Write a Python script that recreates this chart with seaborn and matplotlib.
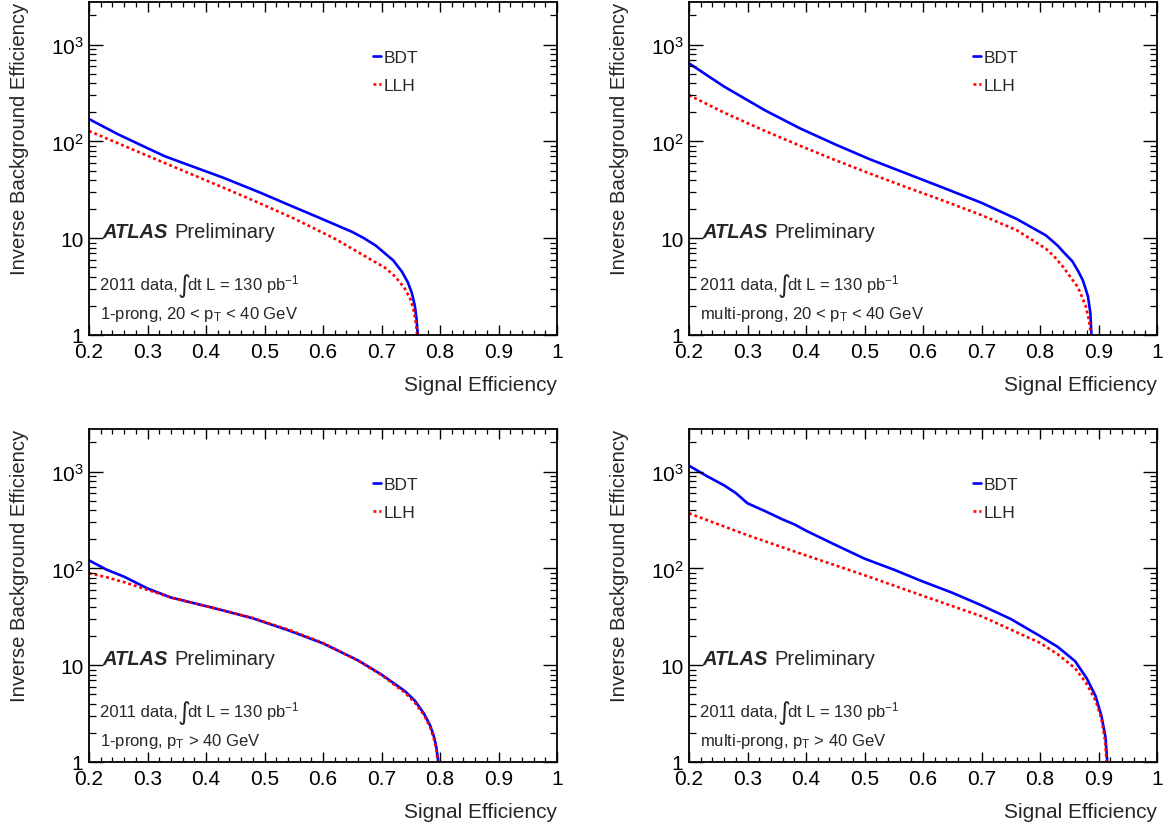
import numpy as np
import pandas as pd
import matplotlib
matplotlib.use("Agg")
import matplotlib.pyplot as plt
from matplotlib.ticker import FixedLocator, FixedFormatter, MultipleLocator, NullFormatter
import seaborn as sns

# ---------------- data ----------------
# Panel A: 1-prong, 20 < pT < 40 GeV
a_bdt_x = [0.20, 0.25, 0.30, 0.33, 0.36, 0.43, 0.49, 0.55, 0.59, 0.65, 0.67, 0.69, 0.72, 0.735, 0.745, 0.752, 0.757, 0.760, 0.762]
a_bdt_y = [170, 118, 85, 70, 60, 42, 30, 21, 16.6, 11.6, 10.0, 8.4, 5.9, 4.5, 3.5, 2.7, 2.0, 1.45, 1.0]
a_llh_x = [0.20, 0.30, 0.36, 0.43, 0.49, 0.55, 0.62, 0.68, 0.705, 0.72, 0.73, 0.74, 0.75, 0.756, 0.759, 0.761]
a_llh_y = [128, 71, 50, 33.2, 23.2, 16, 9.9, 6.1, 5.0, 4.2, 3.6, 3.0, 2.3, 1.7, 1.3, 1.0]

# Panel B: multi-prong, 20 < pT < 40 GeV
b_bdt_x = [0.20, 0.26, 0.33, 0.39, 0.45, 0.51, 0.57, 0.63, 0.70, 0.76, 0.81, 0.83, 0.84, 0.855, 0.865, 0.873, 0.878, 0.882, 0.886, 0.888]
b_bdt_y = [640, 368, 209, 136, 93, 65, 47, 34, 23.2, 15.8, 10.7, 8.4, 7.2, 5.8, 4.6, 3.7, 3.0, 2.5, 1.7, 1.0]
b_llh_x = [0.20, 0.26, 0.33, 0.39, 0.45, 0.51, 0.57, 0.63, 0.70, 0.76, 0.81, 0.825, 0.84, 0.865, 0.878, 0.884, 0.887]
b_llh_y = [300, 198, 128, 90, 64, 46.3, 33.9, 25, 17.3, 12.1, 7.8, 6.4, 5.0, 3.1, 2.0, 1.4, 1.0]

# Panel C: 1-prong, pT > 40 GeV
c_bdt_x = [0.20, 0.23, 0.26, 0.30, 0.34, 0.42, 0.48, 0.54, 0.60, 0.66, 0.70, 0.74, 0.757, 0.772, 0.783, 0.790, 0.794, 0.797]
c_bdt_y = [121, 97, 82, 62, 50, 38, 30.5, 23, 16.8, 11.2, 8.0, 5.4, 4.3, 3.2, 2.4, 1.8, 1.4, 1.0]
c_llh_x = [0.20, 0.23, 0.26, 0.30, 0.34, 0.42, 0.48, 0.54, 0.60, 0.66, 0.70, 0.74, 0.757, 0.772, 0.783, 0.790, 0.794, 0.796]
c_llh_y = [89, 81, 72, 60, 50, 38, 30.7, 23.4, 17, 11.1, 7.9, 5.2, 4.1, 3.1, 2.3, 1.7, 1.3, 1.0]

# Panel D: multi-prong, pT > 40 GeV
d_bdt_x = [0.20, 0.23, 0.26, 0.28, 0.30, 0.33, 0.36, 0.38, 0.40, 0.45, 0.50, 0.55, 0.60, 0.65, 0.70, 0.75, 0.80, 0.83, 0.86, 0.88, 0.895, 0.905, 0.912, 0.915]
d_bdt_y = [1150, 900, 720, 600, 470, 390, 320, 285, 245, 175, 126, 97, 73, 56, 41.5, 30, 20, 15.5, 11, 7.3, 4.8, 3.0, 1.8, 1.0]
d_llh_x = [0.20, 0.30, 0.40, 0.50, 0.60, 0.70, 0.80, 0.83, 0.86, 0.88, 0.895, 0.905, 0.911, 0.914]
d_llh_y = [370, 220, 136, 85, 52, 32, 17, 13, 9.3, 6.4, 4.3, 2.8, 1.7, 1.0]

panel_labels = ["1-prong, 20 < p$_{\\mathrm{T}}$ < 40 GeV",
                "multi-prong, 20 < p$_{\\mathrm{T}}$ < 40 GeV",
                "1-prong, p$_{\\mathrm{T}}$ > 40 GeV",
                "multi-prong, p$_{\\mathrm{T}}$ > 40 GeV"]
series_names = ["BDT", "LLH"]
x_ticks = [0.2, 0.3, 0.4, 0.5, 0.6, 0.7, 0.8, 0.9, 1.0]
x_tick_labels = ["0.2", "0.3", "0.4", "0.5", "0.6", "0.7", "0.8", "0.9", "1"]
y_ticks = [1, 10, 100, 1000]
y_tick_labels = ["1", "10", "$10^{2}$", "$10^{3}$"]
y_minor_ticks = [m * 10 ** e for e in range(0, 4) for m in range(2, 10)]

# ---------------- style ----------------
sns.set_theme(style="ticks")
plt.rcParams["font.family"] = ["Liberation Sans", "DejaVu Sans"]
plt.rcParams["mathtext.fontset"] = "custom"
plt.rcParams["mathtext.rm"] = "Liberation Sans"
plt.rcParams["mathtext.it"] = "Liberation Sans:italic"
plt.rcParams["mathtext.bf"] = "Liberation Sans:bold"
plt.rcParams.update({
    "axes.axisbelow": False,
    "xtick.direction": "in", "ytick.direction": "in",
    "xtick.top": True, "ytick.right": True,
    "xtick.bottom": True, "ytick.left": True,
    "xtick.color": "black", "ytick.color": "black",
    "xtick.major.size": 7.5, "xtick.minor.size": 3.8,
    "ytick.major.size": 10, "ytick.minor.size": 5,
    "xtick.major.width": 1.0, "xtick.minor.width": 0.9,
    "ytick.major.width": 1.0, "ytick.minor.width": 0.9,
    "xtick.minor.visible": True, "ytick.minor.visible": True,
})

fig = plt.figure(figsize=(11.65, 8.29), dpi=100)
W, H = 1165, 829
boxes = [(89, 3, 557, 336), (689, 3, 1157, 336), (89, 430, 557, 763), (689, 430, 1157, 763)]

panels = [
    (a_bdt_x, a_bdt_y, a_llh_x, a_llh_y),
    (b_bdt_x, b_bdt_y, b_llh_x, b_llh_y),
    (c_bdt_x, c_bdt_y, c_llh_x, c_llh_y),
    (d_bdt_x, d_bdt_y, d_llh_x, d_llh_y),
]

for i, ((bx, by, lx, ly), (l, t, r, b)) in enumerate(zip(panels, boxes)):
    ax = fig.add_axes([l / W, 1 - b / H, (r - l) / W, (b - t) / H])
    sns.lineplot(x=bx, y=by, ax=ax, color="#0000ff", lw=1.9, label=series_names[0],
                 sort=False, estimator=None)
    sns.lineplot(x=lx, y=ly, ax=ax, color="#ff0000", lw=1.9, label=series_names[1],
                 sort=False, estimator=None, linestyle=(0, (1.1, 1.1)))
    ax.set_yscale("log")
    ax.set_xlim(0.2, 1.0)
    ax.set_ylim(1, 2750)

    ax.xaxis.set_major_locator(FixedLocator(x_ticks))
    ax.xaxis.set_major_formatter(FixedFormatter(x_tick_labels))
    ax.xaxis.set_minor_locator(MultipleLocator(0.02))
    ax.xaxis.set_minor_formatter(NullFormatter())
    ax.yaxis.set_major_locator(FixedLocator(y_ticks))
    ax.yaxis.set_major_formatter(FixedFormatter(y_tick_labels))
    ax.yaxis.set_minor_locator(FixedLocator(y_minor_ticks))
    ax.yaxis.set_minor_formatter(NullFormatter())

    ax.tick_params(axis="both", which="both", direction="in", top=True, right=True,
                   bottom=True, left=True, color="black", labelcolor="black", labelsize=15)
    ax.tick_params(axis="x", which="major", length=7.5, width=1.0, pad=5)
    ax.tick_params(axis="x", which="minor", length=3.8, width=0.9)
    ax.tick_params(axis="y", which="major", length=10, width=1.0, pad=4)
    ax.tick_params(axis="y", which="minor", length=5, width=0.9)
    for sp in ax.spines.values():
        sp.set_linewidth(1.3)
        sp.set_color("black")

    ax.set_xlabel("Signal Efficiency", fontsize=15, loc="right")
    ax.xaxis.set_label_coords(1.0, -0.12)
    ax.set_ylabel("Inverse Background Efficiency", fontsize=14.6, loc="top")
    ax.yaxis.set_label_coords(-0.128, 1.0)

    ax.text(0.028, 0.294, "ATLAS", transform=ax.transAxes, fontsize=14.5,
            fontweight="bold", fontstyle="italic", va="baseline", ha="left")
    ax.text(0.182, 0.294, "Preliminary", transform=ax.transAxes, fontsize=14.5,
            va="baseline", ha="left")
    ax.text(0.024, 0.138, "2011 data,", transform=ax.transAxes,
            fontsize=12, va="baseline", ha="left")
    ax.text(0.189, 0.130, "\u222b", transform=ax.transAxes, family="DejaVu Sans",
            fontsize=18, va="baseline", ha="left")
    ax.text(0.209, 0.138, "dt L = 130 pb$^{-1}$", transform=ax.transAxes,
            fontsize=12, va="baseline", ha="left")
    ax.text(0.024, 0.051, panel_labels[i], transform=ax.transAxes,
            fontsize=12, va="baseline", ha="left")

    leg = ax.legend(loc="upper left", bbox_to_anchor=(0.592, 0.877), frameon=False,
                    fontsize=12.5, handlelength=0.45, handletextpad=0.15,
                    labelspacing=0.75, borderaxespad=0)

fig.savefig("out.png", dpi=100)
